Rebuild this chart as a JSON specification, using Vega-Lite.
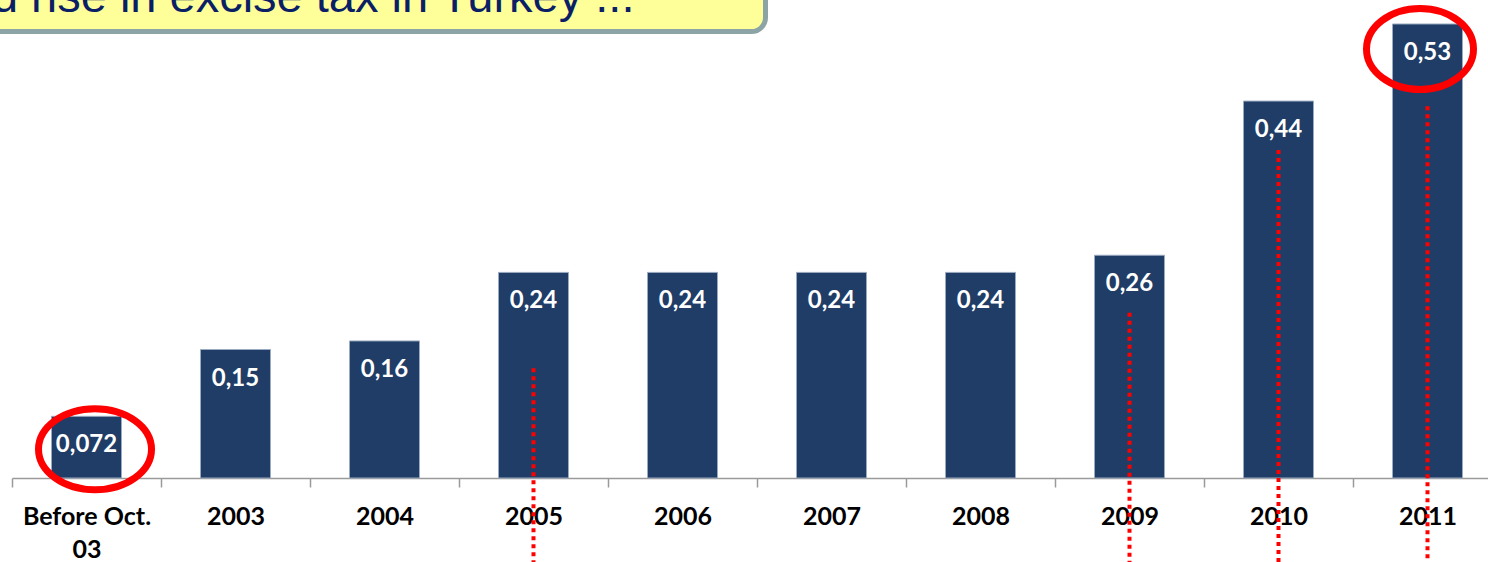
{
  "$schema": "https://vega.github.io/schema/vega-lite/v6.json",
  "width": 1476,
  "height": 478,
  "autosize": {"type": "none"},
  "padding": {"left": 12, "top": 0, "right": 0, "bottom": 84},
  "background": "white",
  "config": {"view": {"stroke": null}},
  "datasets": {
    "tax": [
      {"cat": "Before Oct. 03", "v": 0.072, "lbl": "0,072"},
      {"cat": "2003", "v": 0.15, "lbl": "0,15"},
      {"cat": "2004", "v": 0.16, "lbl": "0,16"},
      {"cat": "2005", "v": 0.24, "lbl": "0,24"},
      {"cat": "2006", "v": 0.24, "lbl": "0,24"},
      {"cat": "2007", "v": 0.24, "lbl": "0,24"},
      {"cat": "2008", "v": 0.24, "lbl": "0,24"},
      {"cat": "2009", "v": 0.26, "lbl": "0,26"},
      {"cat": "2010", "v": 0.44, "lbl": "0,44"},
      {"cat": "2011", "v": 0.53, "lbl": "0,53"}
    ],
    "markers": [
      {"cat": "2005", "top": 0.128},
      {"cat": "2009", "top": 0.193},
      {"cat": "2010", "top": 0.383},
      {"cat": "2011", "top": 0.434}
    ],
    "heading": [
      {"box": "Before Oct. 03", "anchor": "2006", "heading": "Marked rise in excise tax in Turkey ..."}
    ]
  },
  "layer": [
    {
      "data": {"name": "tax"},
      "mark": {"type": "bar", "color": "#1F3D66", "stroke": "#9AAAC0", "strokeWidth": 1},
      "encoding": {
        "x": {
          "field": "cat",
          "type": "nominal",
          "title": null,
          "scale": {
            "domain": ["Before Oct. 03", "2003", "2004", "2005", "2006", "2007", "2008", "2009", "2010", "2011"],
            "range": [0, 1490],
            "paddingInner": 0.53,
            "paddingOuter": 0.265
          },
          "axis": {
            "labelFont": "Lato",
            "labelFontWeight": "bold",
            "labelFontSize": 25,
            "labelColor": "black",
            "labelAngle": 0,
            "labelPadding": 17,
            "labelLineHeight": 33,
            "labelOverlap": false,
            "labelLimit": 0,
            "labelExpr": "datum.label == 'Before Oct. 03' ? ['Before Oct.', '03'] : datum.label",
            "domainColor": "#9a9a9a",
            "domainWidth": 1.5,
            "tickColor": "#9a9a9a",
            "tickWidth": 1.5,
            "tickSize": 9,
            "tickOffset": -74.5,
            "labelOffset": 74.5,
            "grid": false
          }
        },
        "y": {
          "field": "v",
          "type": "quantitative",
          "title": null,
          "scale": {"domain": [0, 0.558], "nice": false, "zero": true},
          "axis": null
        }
      }
    },
    {
      "data": {"name": "heading"},
      "mark": {"type": "rect", "width": 1358, "fill": "#FFFF99", "stroke": "#8DA4A6", "strokeWidth": 5, "cornerRadius": 14},
      "encoding": {
        "x": {"field": "box", "type": "nominal", "title": null},
        "y": {"datum": 0.7, "type": "quantitative", "title": null, "axis": null},
        "y2": {"datum": 0.5212}
      }
    },
    {
      "data": {"name": "heading"},
      "mark": {"type": "text", "font": "Liberation Sans", "fontSize": 47, "fill": "#0B1F66", "align": "right", "baseline": "alphabetic", "xOffset": -48},
      "encoding": {
        "x": {"field": "anchor", "type": "nominal", "title": null},
        "y": {"datum": 0.544, "type": "quantitative", "title": null, "axis": null},
        "text": {"field": "heading"}
      }
    },
    {
      "data": {"name": "tax"},
      "mark": {"type": "text", "font": "Lato", "fontWeight": "bold", "fontSize": 24, "fill": "white", "baseline": "middle", "dy": 29},
      "encoding": {
        "x": {"field": "cat", "type": "nominal", "title": null},
        "y": {"field": "v", "type": "quantitative", "title": null, "axis": null},
        "text": {"field": "lbl"}
      }
    },
    {
      "data": {"name": "markers"},
      "mark": {"type": "rule", "color": "#FF0000", "strokeWidth": 4, "strokeDash": [4, 4]},
      "encoding": {
        "x": {"field": "cat", "type": "nominal", "title": null},
        "y": {"field": "top", "type": "quantitative", "title": null, "axis": null},
        "y2": {"datum": -0.1}
      }
    },
    {
      "data": {"name": "tax"},
      "transform": [{"filter": "datum.cat == 'Before Oct. 03'"}],
      "mark": {"type": "point", "filled": false, "stroke": "#FF0000", "strokeWidth": 7, "opacity": 1, "shape": "M-1,0A1,0.717,0,1,1,1,0A1,0.717,0,1,1,-1,0Z", "size": 12769, "xOffset": 8.5, "yOffset": 33},
      "encoding": {
        "x": {"field": "cat", "type": "nominal", "title": null},
        "y": {"field": "v", "type": "quantitative", "title": null, "axis": null}
      }
    },
    {
      "data": {"name": "tax"},
      "transform": [{"filter": "datum.cat == '2011'"}],
      "mark": {"type": "point", "filled": false, "stroke": "#FF0000", "strokeWidth": 7, "opacity": 1, "shape": "M-1,0A1,0.757,0,1,1,1,0A1,0.757,0,1,1,-1,0Z", "size": 11449, "xOffset": -7.5, "yOffset": 25},
      "encoding": {
        "x": {"field": "cat", "type": "nominal", "title": null},
        "y": {"field": "v", "type": "quantitative", "title": null, "axis": null}
      }
    }
  ]
}
